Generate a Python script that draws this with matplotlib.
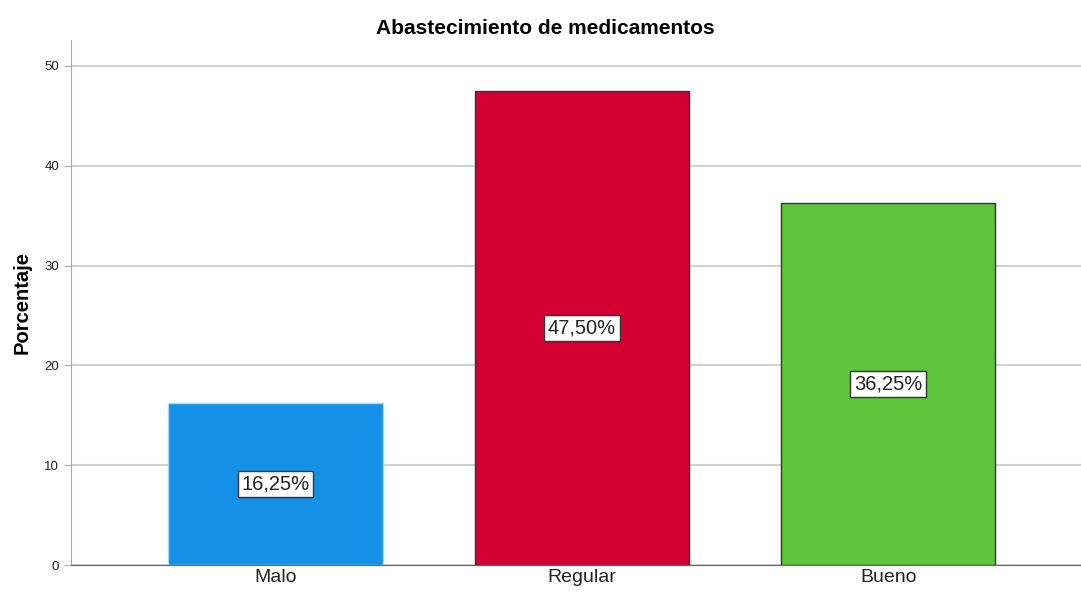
import matplotlib.pyplot as plt

plt.rcParams['font.family'] = ['Liberation Sans', 'DejaVu Sans']

# data
categorias = ['Malo', 'Regular', 'Bueno']
porcentajes = [16.25, 47.50, 36.25]
etiquetas = ['16,25%', '47,50%', '36,25%']
colores = ['#1491e6', '#d50032', '#5ec43b']
bordes = ['#a8d4f5', '#333333', '#333333']

fig = plt.figure(figsize=(10.81, 5.96), dpi=100)
ax = fig.add_axes([0.0657, 0.052, 0.934, 0.881])

x = range(len(categorias))
ax.bar(x, porcentajes, width=0.70, color=colores, edgecolor=bordes, linewidth=1, zorder=3)

for xi, v, lab in zip(x, porcentajes, etiquetas):
    ax.text(xi, v / 2, lab, ha='center', va='center', fontsize=14.5, color='#222222', zorder=4,
            bbox=dict(boxstyle='square,pad=0.18', fc='white', ec='#333333', lw=1))

ax.set_xlim(-0.667, 2.628)
ax.set_ylim(0, 52.6)
ax.set_yticks([0, 10, 20, 30, 40, 50])
ax.yaxis.grid(True, color='#d0d0d0', lw=1.5, zorder=0)
ax.set_axisbelow(True)
ax.set_xticks(list(x))
ax.set_xticklabels(categorias, fontsize=14, color='#222222')
ax.tick_params(axis='x', length=0, pad=3)
ax.tick_params(axis='y', length=5, color='#aaaaaa', labelsize=9.5, labelcolor='#222222')

for s in ['top', 'right']:
    ax.spines[s].set_visible(False)
ax.spines['left'].set_color('#aaaaaa')
ax.spines['bottom'].set_color('#666666')

ax.set_ylabel('Porcentaje', fontsize=14.5, fontweight='bold', labelpad=9)
fig.text(0.504, 0.953, 'Abastecimiento de medicamentos', ha='center', va='center',
         fontsize=15, fontweight='bold')

fig.savefig('out.png', dpi=100)
